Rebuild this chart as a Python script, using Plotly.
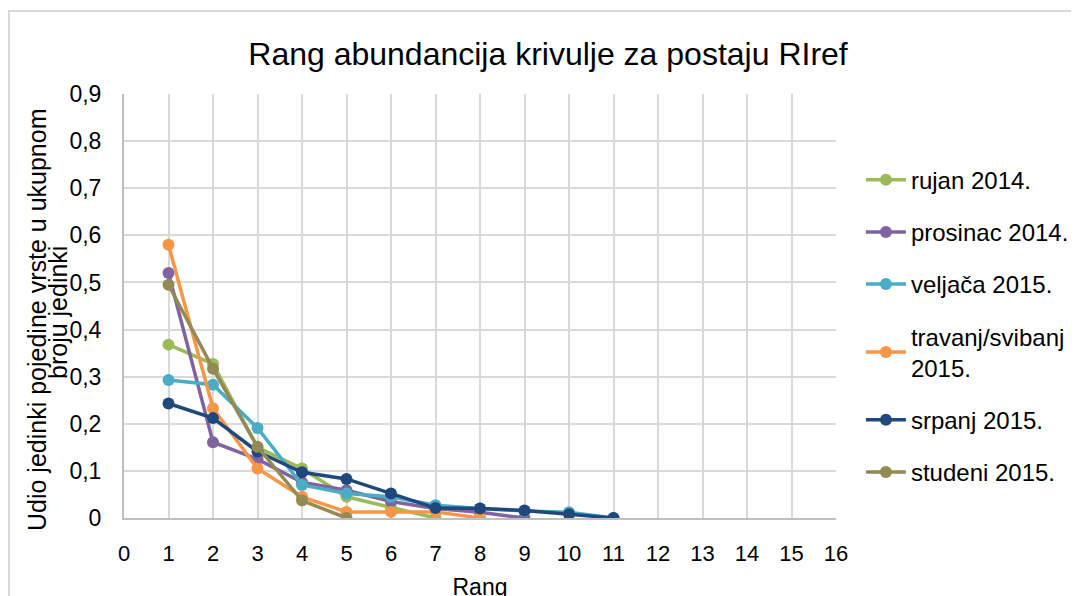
import plotly.graph_objects as go

rang = [1, 2, 3, 4, 5, 6, 7, 8, 9, 10, 11]
series_names = ["rujan 2014.", "prosinac 2014.", "veljača 2015.",
                "travanj/svibanj<br>2015.", "srpanj 2015.", "studeni 2015."]
rujan_2014 = [0.368, 0.327, 0.15, 0.105, 0.045, 0.022, 0.0]
prosinac_2014 = [0.52, 0.161, 0.125, 0.076, 0.059, 0.035, 0.02, 0.012, 0.0]
veljaca_2015 = [0.293, 0.283, 0.191, 0.07, 0.052, 0.045, 0.027, 0.02, 0.015, 0.012, 0.0]
travanj_svibanj_2015 = [0.58, 0.233, 0.105, 0.045, 0.013, 0.013, 0.013, 0.0]
srpanj_2015 = [0.243, 0.212, 0.141, 0.097, 0.083, 0.052, 0.021, 0.02, 0.016, 0.008, 0.0]
studeni_2015 = [0.495, 0.317, 0.151, 0.037, 0.0]
colors = ["#9BBB59", "#8064A2", "#4BACC6", "#F79646", "#1F497D", "#948A54"]

all_series = [rujan_2014, prosinac_2014, veljaca_2015, travanj_svibanj_2015, srpanj_2015, studeni_2015]

x_ticks = list(range(0, 17))
y_ticks = [0, 0.1, 0.2, 0.3, 0.4, 0.5, 0.6, 0.7, 0.8, 0.9]
y_ticktext = ["0", "0,1", "0,2", "0,3", "0,4", "0,5", "0,6", "0,7", "0,8", "0,9"]
y_title_lines = ["Udio jedinki pojedine vrste u ukupnom", "broju jedinki"]

fig = go.Figure()
for i, (name, vals, col) in enumerate(zip(series_names, all_series, colors)):
    fig.add_trace(go.Scatter(
        x=rang[:len(vals)], y=vals, name=name, mode="lines+markers",
        line=dict(color=col, width=3.5), marker=dict(color=col, size=12),
        legendgroup=str(i)))

font = "Liberation Sans, Arial, sans-serif"
W, H = 1079, 596
L, T, R, B = 116, 86, 251, 86
PW, PH = W - L - R, H - T - B

fig.update_layout(
    width=W, height=H,
    paper_bgcolor="white", plot_bgcolor="white",
    margin=dict(l=L, r=R, t=T, b=B),
    font=dict(family=font, size=22, color="#000000"),
    title=dict(text="Rang abundancija krivulje za postaju RIref", x=540 / W, xanchor="center",
               y=1 - 46 / H, yanchor="middle", font=dict(size=32, family=font)),
    showlegend=True,
    legend=dict(x=1.035, xanchor="left", y=0.85, yanchor="top", tracegroupgap=18,
                font=dict(size=24, family=font), itemwidth=40, bgcolor="rgba(0,0,0,0)"),
    xaxis=dict(range=[0, 16], tickvals=x_ticks, showgrid=True, gridcolor="#D9D9D9", gridwidth=1.5,
               showline=True, linecolor="#BFBFBF", linewidth=2, zeroline=False,
               ticks="outside", ticklen=15, tickcolor="rgba(0,0,0,0)",
               tickfont=dict(size=22),
               title=dict(text="Rang", standoff=13, font=dict(size=23)), automargin=False,
               fixedrange=True),
    yaxis=dict(range=[0, 0.9], tickvals=y_ticks, ticktext=y_ticktext, showgrid=True,
               gridcolor="#D9D9D9", gridwidth=1.5, showline=True, linecolor="#BFBFBF", linewidth=2,
               zeroline=False, ticks="outside", ticklen=16, tickcolor="rgba(0,0,0,0)",
               tickfont=dict(size=23), automargin=False, fixedrange=True),
)

for txt, cx, cy in zip(y_title_lines, [37, 58], [320, 313]):
    fig.add_annotation(text=txt, textangle=-90,
                       xref="paper", yref="paper", x=(cx - 124) / PW, y=(518 - cy) / PH,
                       xanchor="center", yanchor="middle", showarrow=False,
                       font=dict(size=25, family=font))

fig.add_shape(type="rect", xref="paper", yref="paper",
              x0=(1 - L) / PW, x1=(W + 20 - L) / PW, y0=-0.5, y1=(H - B - 3) / PH,
              line=dict(color="#D9D9D9", width=2), fillcolor="rgba(0,0,0,0)", layer="below")

fig.write_html("out.html")
